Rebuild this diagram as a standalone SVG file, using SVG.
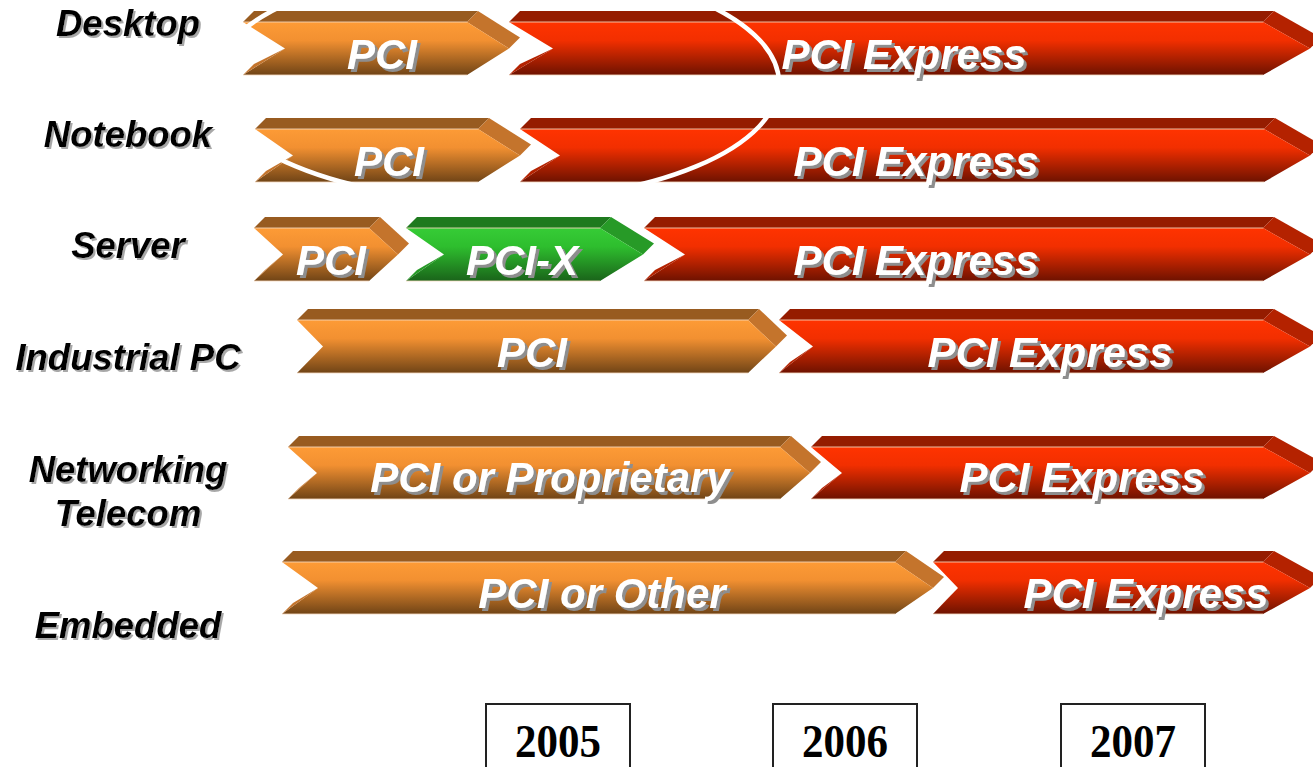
<svg xmlns="http://www.w3.org/2000/svg" width="1313" height="767" viewBox="0 0 1313 767">
  <defs>
    <linearGradient id="gOrange" x1="0" y1="0" x2="0" y2="1">
      <stop offset="0" stop-color="#FD9B36"/>
      <stop offset="0.35" stop-color="#F29031"/>
      <stop offset="1" stop-color="#704416"/>
    </linearGradient>
    <linearGradient id="gRed" x1="0" y1="0" x2="0" y2="1">
      <stop offset="0" stop-color="#FF3300"/>
      <stop offset="0.35" stop-color="#F22F00"/>
      <stop offset="1" stop-color="#6E1200"/>
    </linearGradient>
    <linearGradient id="gGreen" x1="0" y1="0" x2="0" y2="1">
      <stop offset="0" stop-color="#36CC36"/>
      <stop offset="0.35" stop-color="#2EBE2E"/>
      <stop offset="1" stop-color="#1A641A"/>
    </linearGradient>
    <!-- hard offset shadows used behind the lettering -->
    <filter id="shadowBar" x="-5%" y="-20%" width="115%" height="150%">
      <feDropShadow dx="3" dy="3" stdDeviation="0.4" flood-color="#8E8E8E" flood-opacity="1"/>
    </filter>
    <filter id="shadowLabel" x="-5%" y="-20%" width="115%" height="150%">
      <feDropShadow dx="2" dy="2" stdDeviation="0.6" flood-color="#A8A8A8" flood-opacity="1"/>
    </filter>
  </defs>
  <style>
    .o .top{fill:#985B20}
    .o .side{fill:#C4742C}
    .o .front{fill:url(#gOrange)}
    .r .top{fill:#951C00}
    .r .side{fill:#B42200}
    .r .front{fill:url(#gRed)}
    .g .top{fill:#1E7A1E}
    .g .side{fill:#279A27}
    .g .front{fill:url(#gGreen)}
    .edge{fill:none;stroke:#F6D9BF;stroke-width:1;opacity:0.85}
    .bt{font-family:"Liberation Sans",Arial,sans-serif;font-weight:bold;font-style:italic;font-size:42px;text-anchor:middle;fill:#FFFFFF;filter:url(#shadowBar)}
    .lb{font-family:"Liberation Sans",Arial,sans-serif;font-weight:bold;font-style:italic;font-size:36.5px;text-anchor:middle;fill:#000000;filter:url(#shadowLabel)}
    .yr{font-family:"Liberation Serif","Times New Roman",serif;font-weight:bold;font-size:46px;text-anchor:middle;fill:#000}
    .box{fill:#FFFFFF;stroke:#222;stroke-width:2}
  </style>

  <rect width="1313" height="767" fill="#FFFFFF"/>

  <!-- row labels -->
  <g id="labels">
    <text id="label-desktop" class="lb" x="128" y="36">Desktop</text>
    <text id="label-notebook" class="lb" x="128" y="147">Notebook</text>
    <text id="label-server" class="lb" x="128" y="258">Server</text>
    <text id="label-industrial" class="lb" x="128" y="370">Industrial PC</text>
    <text id="label-networking" class="lb" x="128" y="482">Networking</text>
    <text id="label-telecom" class="lb" x="128" y="526">Telecom</text>
    <text id="label-embedded" class="lb" x="128" y="638">Embedded</text>
  </g>

  <!-- Desktop -->
  <g id="desktop-pci" class="o">
    <polygon class="top" points="243,22 254,11 478,11 467,22"/>
    <polygon class="side" points="467,22 478,11 520,37.5 509,48.5"/>
    <polygon class="front" points="243,22 467,22 509,48.5 467,75 243,75 285,48.5"/>
    <polygon class="side" points="243,75 254,64 285,48.5"/>
    <path class="edge" d="M243 22H467M243 75H467"/>
  </g>
  <g id="desktop-pcie" class="r">
    <polygon class="top" points="509,22 520,11 1274,11 1263,22"/>
    <polygon class="side" points="1263,22 1274,11 1321,37.5 1310,48.5"/>
    <polygon class="front" points="509,22 1263,22 1310,48.5 1263,75 509,75 553,48.5"/>
    <polygon class="side" points="509,75 520,64 553,48.5"/>
    <path class="edge" d="M509 22H1263M509 75H1263"/>
  </g>

  <!-- Notebook -->
  <g id="notebook-pci" class="o">
    <polygon class="top" points="255,129 266,118 489,118 478,129"/>
    <polygon class="side" points="478,129 489,118 531,144.5 520,155.5"/>
    <polygon class="front" points="255,129 478,129 520,155.5 478,182 255,182 293,155.5"/>
    <polygon class="side" points="255,182 266,171 293,155.5"/>
    <path class="edge" d="M255 129H478M255 182H478"/>
  </g>
  <g id="notebook-pcie" class="r">
    <polygon class="top" points="520,129 531,118 1275,118 1264,129"/>
    <polygon class="side" points="1264,129 1275,118 1321,144.5 1310,155.5"/>
    <polygon class="front" points="520,129 1264,129 1310,155.5 1264,182 520,182 560,155.5"/>
    <polygon class="side" points="520,182 531,171 560,155.5"/>
    <path class="edge" d="M520 129H1264M520 182H1264"/>
  </g>

  <!-- Server -->
  <g id="server-pci" class="o">
    <polygon class="top" points="254,228 265,217 380,217 369,228"/>
    <polygon class="side" points="369,228 380,217 409,243.5 398,254.5"/>
    <polygon class="front" points="254,228 369,228 398,254.5 369,281 254,281 283,254.5"/>
    <polygon class="side" points="254,281 265,270 283,254.5"/>
    <path class="edge" d="M254 228H369M254 281H369"/>
  </g>
  <g id="server-pcix" class="g">
    <polygon class="top" points="406,228 417,217 611,217 600,228"/>
    <polygon class="side" points="600,228 611,217 654,243.5 643,254.5"/>
    <polygon class="front" points="406,228 600,228 643,254.5 600,281 406,281 444,254.5"/>
    <polygon class="side" points="406,281 417,270 444,254.5"/>
    <path class="edge" d="M406 228H600M406 281H600"/>
  </g>
  <g id="server-pcie" class="r">
    <polygon class="top" points="644,228 655,217 1274,217 1263,228"/>
    <polygon class="side" points="1263,228 1274,217 1321,243.5 1310,254.5"/>
    <polygon class="front" points="644,228 1263,228 1310,254.5 1263,281 644,281 685,254.5"/>
    <polygon class="side" points="644,281 655,270 685,254.5"/>
    <path class="edge" d="M644 228H1263M644 281H1263"/>
  </g>

  <!-- Industrial PC -->
  <g id="industrial-pci" class="o">
    <polygon class="top" points="297,320 308,309 759,309 748,320"/>
    <polygon class="side" points="748,320 759,309 787,335.5 776,346.5"/>
    <polygon class="front" points="297,320 748,320 776,346.5 748,373 297,373 323,346.5"/>
    <polygon class="side" points="297,373 308,362 323,346.5"/>
    <path class="edge" d="M297 320H748M297 373H748"/>
  </g>
  <g id="industrial-pcie" class="r">
    <polygon class="top" points="779,320 790,309 1274,309 1263,320"/>
    <polygon class="side" points="1263,320 1274,309 1321,335.5 1310,346.5"/>
    <polygon class="front" points="779,320 1263,320 1310,346.5 1263,373 779,373 813,346.5"/>
    <polygon class="side" points="779,373 790,362 813,346.5"/>
    <path class="edge" d="M779 320H1263M779 373H1263"/>
  </g>

  <!-- Networking / Telecom -->
  <g id="networking-pci" class="o">
    <polygon class="top" points="288,447 299,436 791,436 780,447"/>
    <polygon class="side" points="780,447 791,436 821,462 810,473"/>
    <polygon class="front" points="288,447 780,447 810,473 780,499 288,499 317,473"/>
    <polygon class="side" points="288,499 299,488 317,473"/>
    <path class="edge" d="M288 447H780M288 499H780"/>
  </g>
  <g id="networking-pcie" class="r">
    <polygon class="top" points="811,447 822,436 1274,436 1263,447"/>
    <polygon class="side" points="1263,447 1274,436 1321,462 1310,473"/>
    <polygon class="front" points="811,447 1263,447 1310,473 1263,499 811,499 842,473"/>
    <polygon class="side" points="811,499 822,488 842,473"/>
    <path class="edge" d="M811 447H1263M811 499H1263"/>
  </g>

  <!-- Embedded -->
  <g id="embedded-pci" class="o">
    <polygon class="top" points="282,562 293,551 906,551 895,562"/>
    <polygon class="side" points="895,562 906,551 944,577 933,588"/>
    <polygon class="front" points="282,562 895,562 933,588 895,614 282,614 318,588"/>
    <polygon class="side" points="282,614 293,603 318,588"/>
    <path class="edge" d="M282 562H895M282 614H895"/>
  </g>
  <g id="embedded-pcie" class="r">
    <polygon class="top" points="933,562 944,551 1274,551 1263,562"/>
    <polygon class="side" points="1263,562 1274,551 1321,577 1310,588"/>
    <polygon class="front" points="933,562 1263,562 1310,588 1263,614 933,614 958,588"/>
    <polygon class="side" points="933,614 944,603 958,588"/>
    <path class="edge" d="M933 562H1263M933 614H1263"/>
  </g>

  <!-- white outline ring over the desktop / notebook transition -->
  <g id="connectors">
    <ellipse id="transition-ring" cx="496" cy="83" rx="283" ry="118" fill="none" stroke="#FFFFFF" stroke-width="4.5"/>
  </g>

  <!-- bar captions -->
  <g id="captions">
    <text class="bt" x="382" y="69">PCI</text>
    <text class="bt" x="904" y="69">PCI Express</text>
    <text class="bt" x="389" y="176">PCI</text>
    <text class="bt" x="916" y="176">PCI Express</text>
    <text class="bt" x="331" y="275">PCI</text>
    <text class="bt" x="522" y="275">PCI-X</text>
    <text class="bt" x="916" y="275">PCI Express</text>
    <text class="bt" x="532" y="367">PCI</text>
    <text class="bt" x="1050" y="367">PCI Express</text>
    <text class="bt" x="550" y="492">PCI or Proprietary</text>
    <text class="bt" x="1082" y="492">PCI Express</text>
    <text class="bt" x="602" y="608">PCI or Other</text>
    <text class="bt" x="1146" y="608">PCI Express</text>
  </g>

  <!-- year axis -->
  <g id="year-2005"><rect class="box" x="486" y="704" width="144" height="80"/><text class="yr" x="558" y="757" textLength="86" lengthAdjust="spacingAndGlyphs">2005</text></g>
  <g id="year-2006"><rect class="box" x="773" y="704" width="144" height="80"/><text class="yr" x="845" y="757" textLength="86" lengthAdjust="spacingAndGlyphs">2006</text></g>
  <g id="year-2007"><rect class="box" x="1061" y="704" width="144" height="80"/><text class="yr" x="1133" y="757" textLength="86" lengthAdjust="spacingAndGlyphs">2007</text></g>
</svg>
